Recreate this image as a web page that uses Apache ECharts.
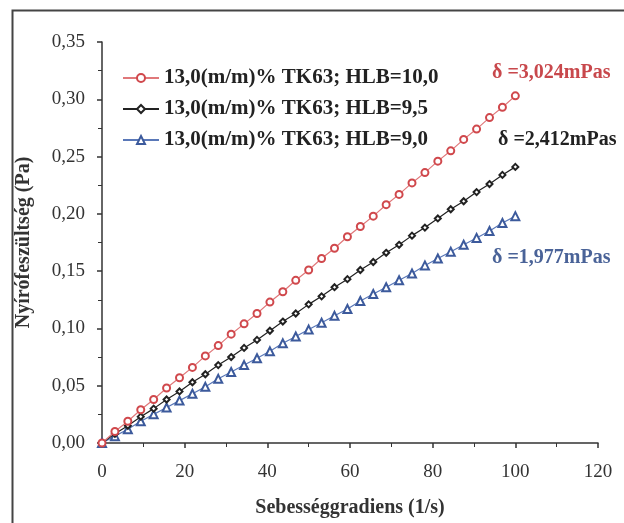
<!DOCTYPE html>
<html><head><meta charset="utf-8">
<script src="https://cdn.jsdelivr.net/npm/echarts@6/dist/echarts.min.js"></script>
<style>html,body{margin:0;padding:0;background:#fff}#c{width:624px;height:523px}</style>
</head><body><div id="c"></div>
<script>
const shearRate = [0, 3.125, 6.25, 9.375, 12.5, 15.625, 18.75, 21.875, 25, 28.125, 31.25, 34.375, 37.5, 40.625, 43.75, 46.875, 50, 53.125, 56.25, 59.375, 62.5, 65.625, 68.75, 71.875, 75, 78.125, 81.25, 84.375, 87.5, 90.625, 93.75, 96.875, 100];
const stressHLB100 = [0, 0.010, 0.019, 0.029, 0.038, 0.048, 0.057, 0.066, 0.076, 0.085, 0.095, 0.104, 0.113, 0.123, 0.132, 0.142, 0.151, 0.161, 0.170, 0.180, 0.189, 0.198, 0.208, 0.217, 0.227, 0.236, 0.246, 0.255, 0.265, 0.274, 0.284, 0.293, 0.303];
const stressHLB95 = [0, 0.008, 0.015, 0.023, 0.030, 0.038, 0.045, 0.053, 0.060, 0.068, 0.075, 0.083, 0.090, 0.098, 0.106, 0.113, 0.121, 0.128, 0.136, 0.143, 0.151, 0.158, 0.166, 0.173, 0.181, 0.188, 0.196, 0.204, 0.211, 0.219, 0.226, 0.234, 0.241];
const stressHLB90 = [0, 0.006, 0.012, 0.019, 0.025, 0.031, 0.037, 0.043, 0.049, 0.056, 0.062, 0.068, 0.074, 0.080, 0.087, 0.093, 0.099, 0.105, 0.111, 0.117, 0.124, 0.130, 0.136, 0.142, 0.148, 0.155, 0.161, 0.167, 0.173, 0.179, 0.185, 0.192, 0.198];
const seriesNames = ['13,0(m/m)% TK63; HLB=10,0', '13,0(m/m)% TK63; HLB=9,5', '13,0(m/m)% TK63; HLB=9,0'];
const viscosityLabels = ['δ =3,024mPas', 'δ =2,412mPas', 'δ =1,977mPas'];

const serif = '"Liberation Serif", "DejaVu Serif", serif';
const lineColors = ['#e0787a', '#222222', '#5a78b8'];
const markColors = ['#d0484c', '#222222', '#3c5a9c'];
const textColors = ['#c8484c', '#222222', '#4a6398'];
const symbols = ['emptyCircle', 'emptyDiamond', 'emptyTriangle'];
const symSizes = [7, 6, 8];
const datasets = [stressHLB100, stressHLB95, stressHLB90];

const chart = echarts.init(document.getElementById('c'));
chart.setOption({
  animation: false,
  backgroundColor: '#fff',
  grid: {left: 102, right: 26, top: 42, bottom: 80},
  legend: {
    left: 117, top: 62, orient: 'vertical', itemWidth: 36, itemHeight: 10, itemGap: 9,
    data: seriesNames,
    textStyle: {fontFamily: serif, fontWeight: 'bold', fontSize: 21, color: '#222', lineHeight: 22}
  },
  xAxis: {
    type: 'value', min: 0, max: 120, interval: 20,
    name: 'Sebességgradiens (1/s)', nameLocation: 'middle', nameGap: 55,
    nameTextStyle: {fontFamily: serif, fontWeight: 'bold', fontSize: 20, color: '#333'},
    axisLine: {lineStyle: {color: '#333', width: 1.5}},
    axisTick: {show: true, length: 5, lineStyle: {color: '#333', width: 1.5}},
    minorTick: {show: true, splitNumber: 2, length: 4, lineStyle: {color: '#333', width: 1}},
    splitLine: {show: false},
    axisLabel: {fontFamily: serif, fontSize: 19, color: '#333', margin: 20}
  },
  yAxis: {
    type: 'value', min: 0, max: 0.35, interval: 0.05,
    name: 'Nyírófeszültség (Pa)', nameLocation: 'middle', nameGap: 68,
    nameTextStyle: {fontFamily: serif, fontWeight: 'bold', fontSize: 20, color: '#333'},
    axisLine: {show: true, lineStyle: {color: '#333', width: 1.5}},
    axisTick: {show: true, length: 5, lineStyle: {color: '#333', width: 1.5}},
    minorTick: {show: true, splitNumber: 2, length: 4, lineStyle: {color: '#333', width: 1}},
    splitLine: {show: false},
    axisLabel: {fontFamily: serif, fontSize: 19, color: '#333', margin: 17,
      formatter: v => v.toFixed(2).replace('.', ',')}
  },
  series: datasets.map((d, i) => ({
    name: seriesNames[i], type: 'line',
    data: shearRate.map((x, k) => [x, d[k]]),
    symbol: symbols[i], symbolSize: symSizes[i],
    lineStyle: {color: lineColors[i], width: 1.2},
    itemStyle: {color: markColors[i], borderWidth: 1.2},
    z: 3 - i
  })),
  graphic: [
    {type: 'rect', left: 10, top: 8, shape: {width: 640, height: 540}, style: {fill: 'none', stroke: '#444', lineWidth: 2}},
    {type: 'text', left: 492, top: 63, style: {text: viscosityLabels[0], fill: textColors[0], font: 'bold 20px ' + serif}},
    {type: 'text', left: 498, top: 130, style: {text: viscosityLabels[1], fill: textColors[1], font: 'bold 20px ' + serif}},
    {type: 'text', left: 492, top: 248, style: {text: viscosityLabels[2], fill: textColors[2], font: 'bold 20px ' + serif}}
  ]
});
</script></body></html>
